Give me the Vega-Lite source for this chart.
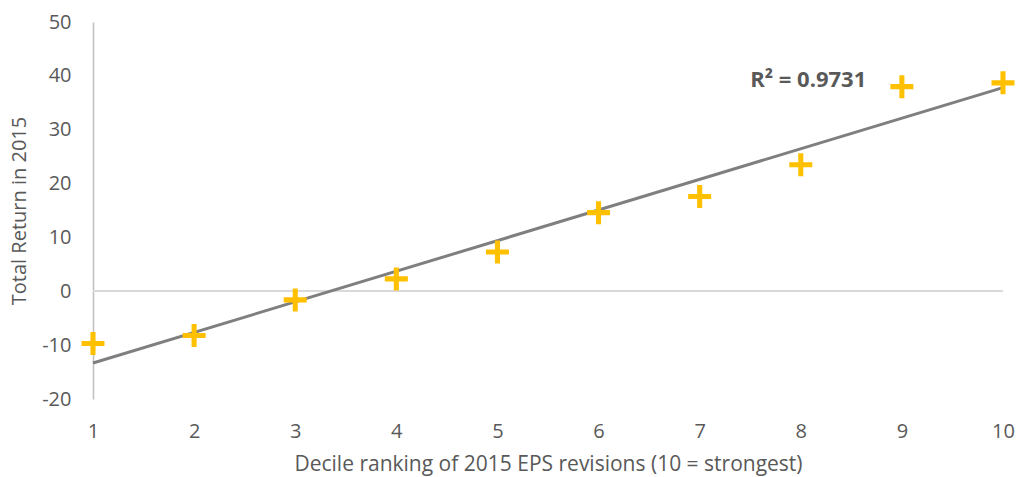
{
  "$schema": "https://vega.github.io/schema/vega-lite/v6.json",
  "width": 910,
  "height": 377,
  "autosize": {"type": "none"},
  "padding": {"left": 93, "top": 22, "right": 16, "bottom": 78},
  "background": "white",
  "config": {
    "view": {"stroke": null},
    "font": "Open Sans",
    "axis": {"labelFont": "Open Sans", "titleFont": "Open Sans", "labelColor": "#595959", "titleColor": "#595959", "titleFontWeight": "normal"}
  },
  "data": {
    "values": [
      {"decile": 1, "ret": -9.7},
      {"decile": 2, "ret": -8.2},
      {"decile": 3, "ret": -1.6},
      {"decile": 4, "ret": 2.3},
      {"decile": 5, "ret": 7.3},
      {"decile": 6, "ret": 14.6},
      {"decile": 7, "ret": 17.6},
      {"decile": 8, "ret": 23.5},
      {"decile": 9, "ret": 38.0},
      {"decile": 10, "ret": 38.7}
    ]
  },
  "layer": [
    {
      "mark": {"type": "rule", "color": "#D9D9D9", "strokeWidth": 1.5},
      "encoding": {"y": {"datum": 0, "type": "quantitative", "scale": {"domain": [-20, 50]}}}
    },
    {
      "transform": [{"regression": "ret", "on": "decile", "extent": [1, 10]}],
      "mark": {"type": "line", "color": "#7F7F7F", "strokeWidth": 3},
      "encoding": {
        "x": {"field": "decile", "type": "quantitative"},
        "y": {"field": "ret", "type": "quantitative"}
      }
    },
    {
      "mark": {"type": "point", "filled": true, "color": "#FFC000", "opacity": 1, "size": 529,
        "shape": "M-1,-0.22H1V0.22H-1Z M-0.22,-1H0.22V1H-0.22Z"},
      "encoding": {
        "x": {
          "field": "decile", "type": "quantitative",
          "scale": {"domain": [1, 10], "nice": false, "zero": false},
          "axis": {
            "title": "Decile ranking of 2015 EPS revisions (10 = strongest)",
            "values": [1, 2, 3, 4, 5, 6, 7, 8, 9, 10],
            "format": "d", "labelFlush": false, "labelOverlap": false,
            "grid": false, "ticks": false, "domain": false,
            "labelFontSize": 20, "labelPadding": 22,
            "titleFontSize": 21, "titlePadding": 12
          }
        },
        "y": {
          "field": "ret", "type": "quantitative",
          "scale": {"domain": [-20, 50], "nice": false},
          "axis": {
            "title": "Total Return in 2015",
            "values": [-20, -10, 0, 10, 20, 30, 40, 50],
            "labelExpr": "datum.value + ''", "labelFlush": false,
            "grid": false, "ticks": false, "domain": true, "domainColor": "#BFBFBF", "domainWidth": 1.5,
            "labelFontSize": 20, "labelPadding": 22,
            "titleFontSize": 20, "titlePadding": 12
          }
        }
      }
    },
    {
      "data": {"values": [{"label": "R² = 0.9731"}]},
      "mark": {"type": "text", "align": "left", "baseline": "middle", "fontWeight": "bold", "fontSize": 22, "color": "#595959", "font": "Open Sans"},
      "encoding": {
        "x": {"datum": 7.5, "type": "quantitative"},
        "y": {"datum": 39.3, "type": "quantitative"},
        "text": {"field": "label"}
      }
    }
  ]
}
